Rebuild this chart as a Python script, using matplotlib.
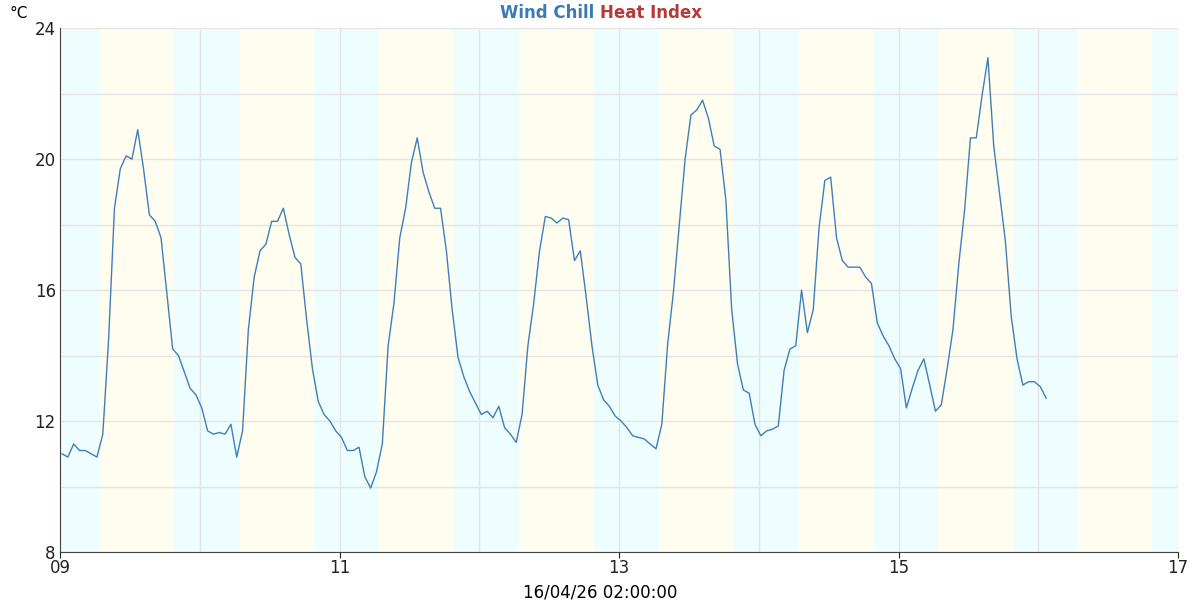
import matplotlib
matplotlib.use("Agg")
import matplotlib.pyplot as plt
import numpy as np

# hours since 09 00:00 (readings are hourly, about 20 min past the hour)
hours = list(range(0, 170))
temps = [
    11.0, 10.9, 11.3, 11.1, 11.1, 11.0, 10.9, 11.6, 14.5, 18.5,
    19.7, 20.1, 20.0, 20.9, 19.7, 18.3, 18.1, 17.6, 15.9, 14.2,
    14.0, 13.5, 13.0, 12.8, 12.4, 11.7, 11.6, 11.65, 11.6, 11.9,
    10.9, 11.7, 14.8, 16.4, 17.2, 17.4, 18.1, 18.1, 18.5, 17.7,
    17.0, 16.8, 15.1, 13.6, 12.6, 12.2, 12.0, 11.7, 11.5, 11.1,
    11.1, 11.2, 10.3, 9.95, 10.45, 11.3, 14.3, 15.6, 17.6, 18.5,
    19.9, 20.65, 19.6, 19.0, 18.5, 18.5, 17.2, 15.4, 13.95, 13.35,
    12.9, 12.55, 12.2, 12.3, 12.1, 12.45, 11.8, 11.6, 11.35, 12.2,
    14.3, 15.6, 17.2, 18.25, 18.2, 18.05, 18.2, 18.15, 16.9, 17.2,
    15.8, 14.3, 13.1, 12.65, 12.45, 12.15, 12.0, 11.8, 11.55, 11.5,
    11.45, 11.3, 11.15, 11.9, 14.35, 15.95, 18.0, 20.0, 21.35, 21.5,
    21.8, 21.25, 20.4, 20.3, 18.75, 15.4, 13.75, 12.95, 12.85, 11.9,
    11.55, 11.7, 11.75, 11.85, 13.55, 14.2, 14.3, 16.0, 14.7, 15.4,
    17.9, 19.35, 19.45, 17.6, 16.9, 16.7, 16.7, 16.7, 16.4, 16.2,
    15.0, 14.6, 14.3, 13.9, 13.6, 12.4, 13.0, 13.55, 13.9, 13.1,
    12.3, 12.5, 13.6, 14.8, 16.8, 18.45, 20.65, 20.65, 21.95, 23.1,
    20.4, 18.95, 17.5, 15.2, 13.9, 13.1, 13.2, 13.2, 13.05, 12.7,
]
sunrise = 6.85   # hours
sunset = 19.6

x = (np.array(hours) + 0.35) / 24.0

fig = plt.figure(figsize=(12, 6), dpi=100)
ax = fig.add_axes([0.05, 0.08, 0.9317, 0.873])

night_c = "#eefdfd"
day_c = "#fefdef"
for d in range(9):
    ax.axvspan(d - 1 + sunset / 24, d + sunrise / 24, color=night_c, lw=0, zorder=0)
    ax.axvspan(d + sunrise / 24, d + sunset / 24, color=day_c, lw=0, zorder=0)

ax.plot(x, temps, color="#3f7fb8", lw=1.0, zorder=3)

ax.set_xlim(0, 8)
ax.set_ylim(8, 24)
ax.set_xticks([0, 2, 4, 6, 8])
ax.set_xticklabels(["09", "11", "13", "15", "17"])
ax.set_xticks(range(9), minor=True)
ax.set_yticks([8, 12, 16, 20, 24])
ax.set_yticks(np.arange(8, 25, 2), minor=True)
ax.grid(True, which="both", color="#e4e4e4", lw=1, zorder=1)
ax.set_axisbelow(True)
for s in ["top", "right"]:
    ax.spines[s].set_visible(False)
for s in ["left", "bottom"]:
    ax.spines[s].set_color("#444444")
ax.tick_params(which="major", labelsize=12, colors="#222222", length=4, pad=1)
ax.tick_params(which="minor", length=0)
ax.tick_params(axis="y", length=0, pad=3)

fig.text(0.5, 0.978, "Wind Chill ", color="#3a7ab5", fontsize=12,
         fontweight="bold", ha="right", va="center")
fig.text(0.5, 0.978, "Heat Index", color="#b53a3a", fontsize=12,
         fontweight="bold", ha="left", va="center")
fig.text(0.008, 0.978, "°C", fontsize=11, va="center")
fig.text(0.5, 0.012, "16/04/26 02:00:00", fontsize=12, ha="center", va="center")

fig.savefig("out.png", dpi=100)
